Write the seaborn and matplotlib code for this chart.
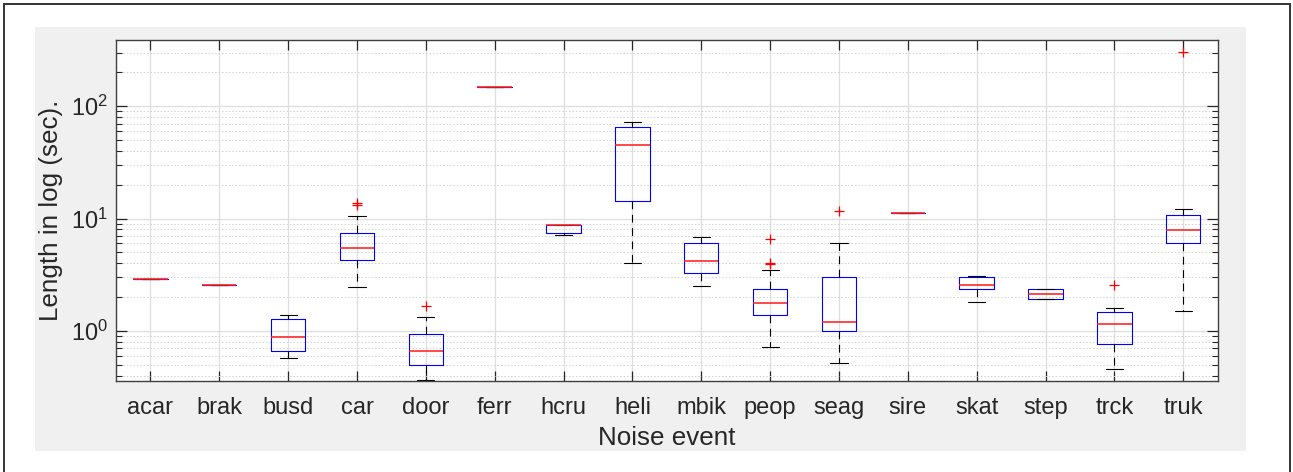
import numpy as np
import pandas as pd
import matplotlib
matplotlib.use("Agg")
import matplotlib.pyplot as plt
import seaborn as sns
from matplotlib.patches import Rectangle
from matplotlib.ticker import LogLocator, NullFormatter

# ---- data (lengths in seconds) ----
categories = ["acar", "brak", "busd", "car", "door", "ferr", "hcru", "heli",
              "mbik", "peop", "seag", "sire", "skat", "step", "trck", "truk"]

acar = [2.9]
brak = [2.55]
busd = [0.575, 0.655, 0.89, 1.27, 1.38]
car = [2.46, 3.3, 3.9, 4.28, 4.8, 5.2, 5.5, 6.2, 6.9, 7.37, 10.6, 13.2, 13.6]
door = [0.362, 0.43, 0.499, 0.58, 0.659, 0.8, 0.946, 1.34, 1.65]
ferr = [149.0]
hcru = [7.08, 7.48, 8.8, 8.81, 8.81]
heli = [4.05, 14.4, 45.3, 65.9, 72.5]
mbik = [2.53, 3.28, 4.22, 6.01, 6.79]
peop = [0.72, 1.05, 1.2, 1.3, 1.39, 1.5, 1.6, 1.7, 1.77, 1.9, 2.05, 2.2, 2.34,
        3.49, 3.95, 4.05, 6.57]
seag = [0.515, 0.8, 0.99, 1.1, 1.19, 2.0, 3.02, 6.01, 11.7]
sire = [11.1]
skat = [1.81, 2.34, 2.54, 3.04, 3.10]
step = [1.91, 1.91, 2.13, 2.36, 2.36]
trck = [0.459, 0.62, 0.766, 0.95, 1.145, 1.3, 1.46, 1.60, 2.55]
truk = [1.51, 4.2, 6.01, 7.0, 7.9, 9.3, 10.7, 12.2, 306.0]

samples = [acar, brak, busd, car, door, ferr, hcru, heli,
           mbik, peop, seag, sire, skat, step, trck, truk]

df = pd.DataFrame({
    "event": [c for c, s in zip(categories, samples) for _ in s],
    "length": [v for s in samples for v in s],
})

# ---- style ----
sns.set_style("white")
plt.rcParams["font.family"] = ["Liberation Sans", "DejaVu Sans"]
TXT = "#262626"

W, H, DPI = 1293, 472, 100
fig = plt.figure(figsize=(W / DPI, H / DPI), dpi=DPI, facecolor="white")

# grey panel and outer frame
fig.patches.append(Rectangle((35 / W, 1 - 451 / H), (1246 - 35) / W, (451 - 27) / H,
                             transform=fig.transFigure, facecolor="#f0f0f0",
                             edgecolor="none", zorder=-10))
fig.patches.append(Rectangle((4 / W, -0.05), (1290 - 4) / W, 1.05 - 4 / H,
                             transform=fig.transFigure, facecolor="none",
                             edgecolor="#333333", linewidth=1.4, zorder=-5))

ax = fig.add_axes([116 / W, 1 - 380.7 / H, (1217.7 - 116) / W, (380.7 - 40) / H])
ax.set_facecolor("white")

sns.boxplot(data=df, x="event", y="length", order=categories, ax=ax,
            width=0.5, fill=False, linewidth=0.8, whis=1.5,
            boxprops=dict(color="blue"),
            medianprops=dict(color="#ff2020", linewidth=1.15),
            whiskerprops=dict(color="black", linestyle=(0, (7, 5))),
            capprops=dict(color="black"),
            flierprops=dict(marker="+", markeredgecolor="red",
                            markersize=7, markeredgewidth=0.9))

ax.set_yscale("log")
ax.set_ylim(0.36, 388)
ax.set_xlim(-0.5, len(categories) - 0.5)
ax.yaxis.set_major_locator(LogLocator(base=10, numticks=10))
ax.yaxis.set_minor_locator(LogLocator(base=10, subs=np.arange(2, 10), numticks=20))
ax.yaxis.set_minor_formatter(NullFormatter())

ax.set_axisbelow(True)
ax.grid(True, which="major", axis="both", color="#dedede", linewidth=0.9, linestyle="-")
ax.grid(True, which="minor", axis="y", color="#d2d2d2", linewidth=0.7,
        linestyle=(0, (1.5, 2)))

ax.tick_params(axis="x", which="major", direction="in", length=7.2, width=0.9,
               color=TXT, top=True, bottom=True, labelsize=17, labelcolor=TXT, pad=11.5)
ax.tick_params(axis="y", which="major", direction="in", length=8, width=0.9,
               color=TXT, left=True, right=True, labelsize=17, labelcolor=TXT, pad=5.5)
ax.tick_params(axis="y", which="minor", direction="in", length=4.3, width=0.8,
               color=TXT, left=True, right=True)

for sp in ax.spines.values():
    sp.set_visible(True)
    sp.set_color("#404040")
    sp.set_linewidth(1.0)

ax.set_xlabel("Noise event", fontsize=18.7, color=TXT, labelpad=5)
ax.set_ylabel("Length in log (sec).", fontsize=18.7, color=TXT, labelpad=6)

fig.savefig("out.png", dpi=DPI, facecolor="white")
